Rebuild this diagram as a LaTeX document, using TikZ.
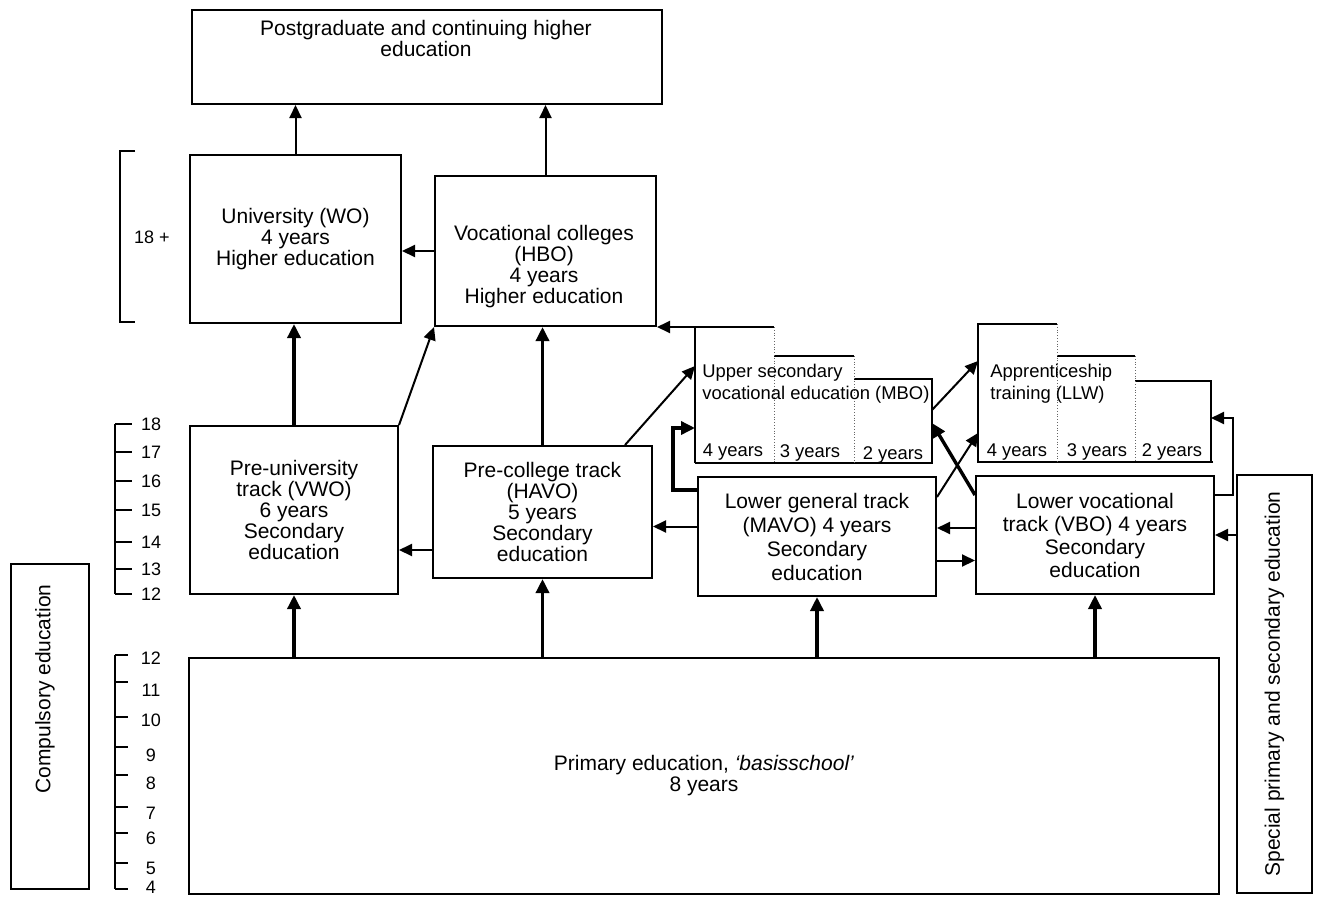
\documentclass[tikz,border=0pt]{standalone}
\usepackage{fontspec}
\setmainfont{Liberation Sans}
\usepackage{tikz}
\usetikzlibrary{arrows.meta}

\begin{document}
\begin{tikzpicture}[x=0.5pt, y=-0.5pt,
	box/.style={draw, line width=1pt, align=center, inner sep=0pt, font=\fontsize{10.5}{10.5}\selectfont},
	txt/.style={align=center, inner sep=0pt, font=\fontsize{10.5}{10.5}\selectfont},
	small/.style={align=left, inner sep=0pt, font=\fontsize{9.2}{11}\selectfont},
	age/.style={inner sep=0pt, font=\fontsize{9}{9}\selectfont},
	arr/.style={-{Triangle[length=6.5pt, width=6pt]}, line width=1pt},
	fat/.style={-{Triangle[length=7pt, width=6.5pt]}, line width=1.7pt},
	divider/.style={densely dotted, line width=0.4pt, black!60}]

	\useasboundingbox (0,0) rectangle (1320,899);

	% higher education
	\node[box, anchor=north west, minimum width=235pt, minimum height=47pt] (post) at (191,9) {};
	\node[txt] (posttext) at (426,38) {Postgraduate and continuing higher\\education};
	\node[box, anchor=north west, minimum width=105.5pt, minimum height=84pt] (univ) at (189,154) {University (WO)\\4 years\\Higher education};
	\node[box, anchor=north west, minimum width=110.5pt, minimum height=75pt] (hbo) at (434,175) {};
	\node[txt] (hbotext) at (544,267) {Vocational colleges\\(HBO)\\4 years\\Higher education};

	% secondary education
	\node[box, anchor=north west, minimum width=104pt, minimum height=84pt] (vwo) at (189,425) {Pre-university\\track (VWO)\\6 years\\Secondary\\education};
	\node[box, anchor=north west, minimum width=109.5pt, minimum height=66pt] (havo) at (432,445) {Pre-college track\\(HAVO)\\5 years\\Secondary\\education};
	\node[box, anchor=north west, minimum width=119pt, minimum height=59.5pt, font=\fontsize{10.5}{12}\selectfont] (mavo) at (697,476) {Lower general track\\(MAVO) 4 years\\Secondary\\education};
	\node[box, anchor=north west, minimum width=119pt, minimum height=59pt, font=\fontsize{10.5}{11.5}\selectfont] (vbo) at (975,475) {Lower vocational\\track (VBO) 4 years\\Secondary\\education};

	% primary and the side boxes
	\node[box, anchor=north west, minimum width=515pt, minimum height=118pt] (primary) at (188,657) {Primary education, \textit{`basisschool'}\\8 years};
	\node[box, rotate=90, minimum width=209pt, minimum height=37.5pt] (special) at (1274.5,684) {Special primary and secondary education};
	\node[box, anchor=north west, minimum width=39pt, minimum height=162.5pt] (compulsory) at (10,563) {};
	\node[txt, rotate=90] (compulsorytext) at (45,689) {Compulsory education};

	% MBO steps
	\coordinate (mbo) at (695,327);
	\coordinate (mbo-w1) at (695,366);
	\coordinate (mbo-w2) at (695,428);
	\coordinate (mbo-e1) at (932,410);
	\coordinate (mbo-e2) at (932,423);
	\draw[line width=1pt] (695,463) -- (mbo) -- (774,327) (774,356) -- (854,356)
		(854,379) -- (932,379) -- (932,463) -- (695,463);
	\draw[divider] (774,327) -- (774,463);
	\draw[divider] (854,356) -- (854,463);
	\node[small, anchor=west] (mbotext) at (702,384) {Upper secondary\\vocational education (MBO)};
	\node[small] (mbo4) at (733,452) {4 years};
	\node[small] (mbo3) at (810,453) {3 years};
	\node[small] (mbo2) at (893,455) {2 years};

	% LLW steps
	\coordinate (llw-w1) at (978,361);
	\coordinate (llw-w2) at (978,433);
	\coordinate (llw-e) at (1211,418);
	\draw[line width=1pt] (1213,462) -- (978,462) -- (978,324) -- (1057,324) (1057,356) -- (1135,356)
		(1135,381) -- (1211,381) -- (1211,462);
	\draw[divider] (1057,324) -- (1057,462);
	\draw[divider] (1135,356) -- (1135,462);
	\node[small, anchor=west] (llwtext) at (990,384) {Apprenticeship\\training (LLW)};
	\node[small] (llw4) at (1017,452) {4 years};
	\node[small] (llw3) at (1097,452) {3 years};
	\node[small] (llw2) at (1172,452) {2 years};

	% age scales
	\draw[line width=1pt] (135,151) -- (120,151) -- (120,322) -- (135,322);
	\node[age] (adult) at (152,237) {18 +};
	\draw[line width=1pt] (115,424) -- (115,594);
	\foreach \y/\a in {424/18, 452/17, 481/16, 510/15, 542/14, 569/13, 594/12}
		\draw[line width=1pt] (115,\y) -- (132,\y) node[age, anchor=west, xshift=4pt] {\a};
	\draw[line width=1pt] (115,655) -- (115,889);
	\foreach \y/\l/\a in {655/658/12, 682/690/11, 717/720/10, 747/755/9, 775/783/8, 807/813/7, 833/838/6, 863/868/5, 889/887/4} {
		\draw[line width=1pt] (115,\y) -- (128,\y);
		\node[age] at (151,\l) {\a};
	}

	% connectors
	\draw[arr] (univ.north) -- (univ.north |- post.south);
	\draw[arr] (hbo.north) -- (hbo.north |- post.south);
	\draw[arr] (hbo.west) -- (hbo.west -| univ.east);
	\draw[fat] (vwo.north) -- (vwo.north |- univ.south);
	\draw[arr] (vwo.north east) -- (hbo.south west);
	\draw[fat] (havo.north) -- (havo.north |- hbo.south);
	\draw[arr] ([yshift=14.5pt]havo.south west) -- ([yshift=14.5pt]havo.south west -| vwo.east);
	\draw[arr] ([yshift=5pt]mavo.west) -- ([yshift=5pt]mavo.west -| havo.east);
	\draw[arr] ([yshift=3.5pt]vbo.west) -- ([yshift=3.5pt]vbo.west -| mavo.east);
	\draw[arr] ([yshift=-12pt]mavo.east) -- ([yshift=-12pt]mavo.east -| vbo.west);
	\draw[arr] (mbo) -- (mbo -| hbo.east);
	\draw[arr] ([xshift=-14pt]havo.north east) -- (mbo-w1);
	\draw[fat] ([yshift=-7pt]mavo.north west) -- ++(-24,0) |- (mbo-w2);
	\draw[arr] (mbo-e1) -- (llw-w1);
	\draw[arr] ([yshift=-10.5pt]mavo.north east) -- (llw-w2);
	\draw[fat] ([yshift=-10pt]vbo.north west) -- (mbo-e2);
	\draw[arr] ([yshift=-10pt]vbo.north east) -- ++(18,0) |- (llw-e);
	\draw[arr] (vbo.east -| special.north) -- (vbo.east);
	\foreach \b in {vwo,havo,mavo,vbo}
		\draw[fat] (\b.south |- primary.north) -- (\b.south);
\end{tikzpicture}
\end{document}
